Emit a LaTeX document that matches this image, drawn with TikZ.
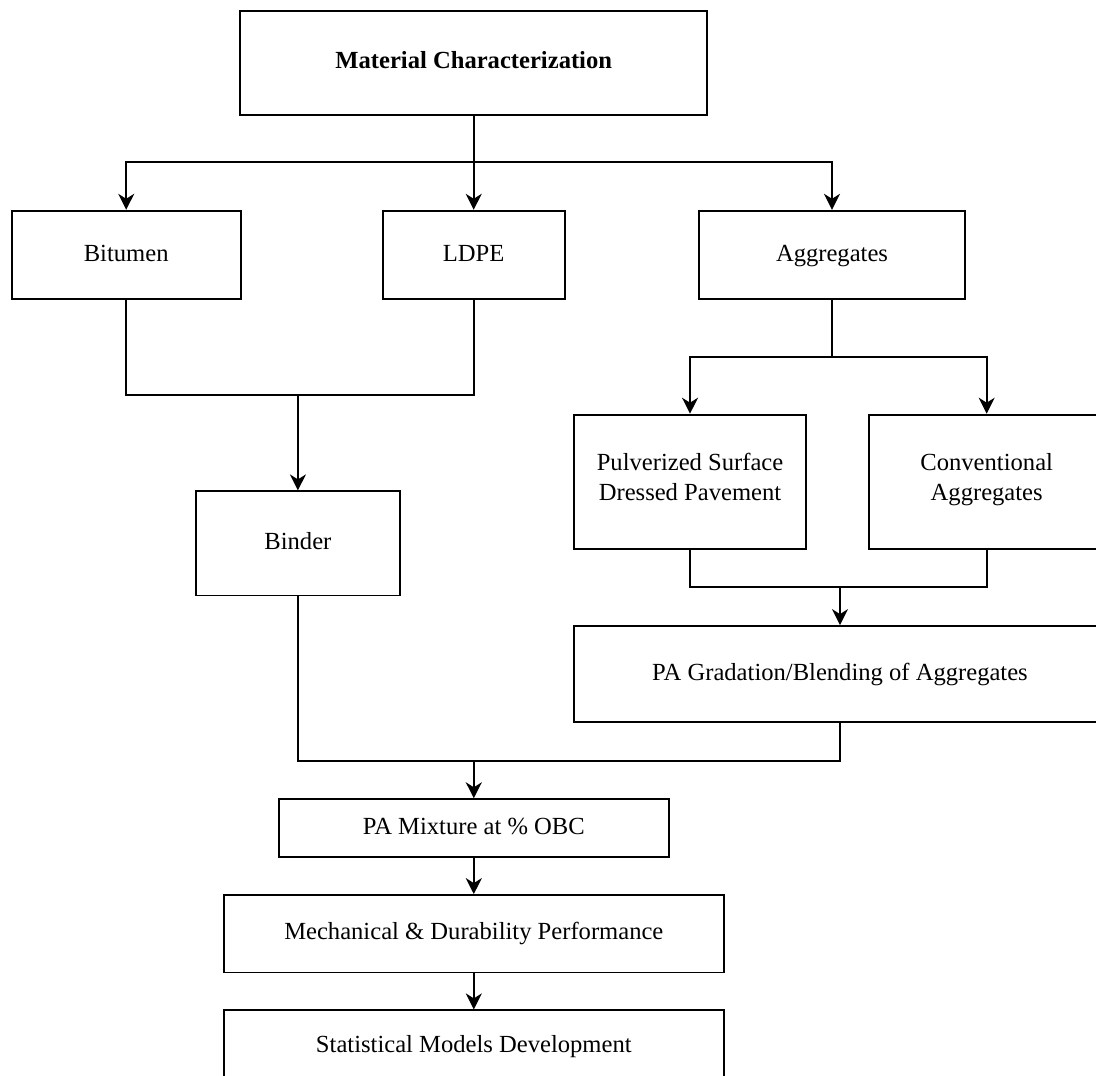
\documentclass[tikz,border=0pt]{standalone}
\usepackage{fontspec}
\setmainfont{Liberation Serif}
\usetikzlibrary{positioning, arrows.meta}

\begin{document}
\begin{tikzpicture}[x=0.5pt,y=-0.5pt,line width=0.8pt,font=\fontsize{12.3}{15}\selectfont,box/.style={draw, line width=0.9pt, inner sep=0pt, align=center, execute at begin node=\strut, execute at end node=\strut},flow/.style={-{Stealth[length=8pt, width=8pt, inset=2.5pt]}}]

\useasboundingbox (0,0) rectangle (1096,1075);
\clip (0,0) rectangle (1096,1075);

% Top
\node[box, minimum width=233.5pt, minimum height=52.2pt] (title) at (473.7,62.9) {\textbf{Material Characterization}};

% Materials
\node[box, minimum width=114.5pt, minimum height=44.3pt] (bitumen) at (126.2,255) {Bitumen};
\node[box, minimum width=91pt, minimum height=44.3pt] (ldpe) at (473.7,255) {LDPE};
\node[box, minimum width=132.7pt, minimum height=44.3pt] (aggregates) at (832,255) {Aggregates};
\node[box, minimum width=102.2pt, minimum height=52.1pt] (binder) at (297.9,543.4) {Binder};
\node[box, minimum width=115.7pt, minimum height=67.2pt] (psdp) at (690,481.8) {Pulverized Surface\\Dressed Pavement};
\node[box, minimum width=118pt, minimum height=67.2pt] (conv) at (986.7,481.8) {Conventional\\Aggregates};
\node[box, minimum width=265.7pt, minimum height=48.1pt] (gradation) at (840,674.1) {PA Gradation/Blending of Aggregates};

% Mixture and testing
\node[box, minimum width=195.2pt, minimum height=28.8pt] (mixture) at (473.8,828) {PA Mixture at \% OBC};
\node[box, minimum width=250pt, minimum height=38.7pt] (mech) at (473.8,933.7) {Mechanical \& Durability Performance};
\node[box, minimum width=250pt, minimum height=36.4pt] (stat) at (473.8,1046.7) {Statistical Models Development};

% Split and join points
\coordinate (s1) at (473.7,162);
\coordinate (j1) at (297.9,395);
\coordinate (s2) at (832,356.7);
\coordinate (j2) at (840,587);
\coordinate (j3) at (473.8,760.7);

% Connectors
\draw[flow] (title.south) -- (ldpe.north);
\draw[flow] (s1) -| (bitumen.north);
\draw[flow] (s1) -| (aggregates.north);
\draw (bitumen.south) |- (j1) -| (ldpe.south);
\draw[flow] (j1) -- (binder.north);
\draw (aggregates.south) -- (s2);
\draw[flow] (s2) -| (psdp.north);
\draw[flow] (s2) -| (conv.north);
\draw (psdp.south) |- (j2) -| (conv.south);
\draw[flow] (j2) -- (gradation.north);
\draw (binder.south) |- (j3) -| (gradation.south);
\draw[flow] (j3) -- (mixture.north);
\draw[flow] (mixture) -- (mech);
\draw[flow] (mech) -- (stat);
\end{tikzpicture}
\end{document}
